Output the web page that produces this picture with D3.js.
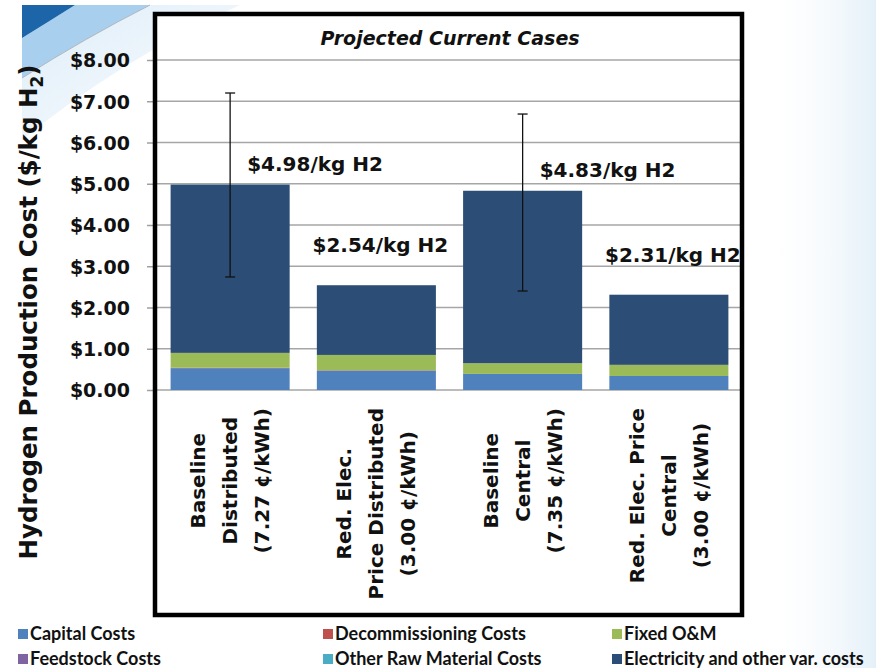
<!DOCTYPE html>
<html>
<head>
<meta charset="utf-8">
<script src="https://cdn.jsdelivr.net/npm/d3@7"></script>
<style>
  body { margin: 0; background: #fff; }
  svg { display: block; }
</style>
</head>
<body>
<svg width="876" height="668"></svg>
<script>
// chart values
const cases = [
  ["Baseline", "Distributed", "(7.27 \u00a2/kWh)"],
  ["Red. Elec.", "Price Distributed", "(3.00 \u00a2/kWh)"],
  ["Baseline", "Central", "(7.35 \u00a2/kWh)"],
  ["Red. Elec. Price", "Central", "(3.00 \u00a2/kWh)"]
];
const seriesNames = ["Capital Costs", "Decommissioning Costs", "Fixed O&M",
  "Feedstock Costs", "Other Raw Material Costs", "Electricity and other var. costs"];
const capital = [0.53, 0.47, 0.39, 0.34];
const decommissioning = [0.01, 0.01, 0.00, 0.00];
const fixedOM = [0.36, 0.37, 0.26, 0.27];
const feedstock = [0, 0, 0, 0];
const otherRaw = [0, 0, 0, 0];
const electricity = [4.08, 1.69, 4.18, 1.70];
const totals = [4.98, 2.54, 4.83, 2.31];
const errLow = [2.74, null, 2.40, null];
const errHigh = [7.20, null, 6.69, null];
const yTicks = [0, 1, 2, 3, 4, 5, 6, 7, 8];

const colors = ["#4f81bd", "#c0504d", "#9bbb59", "#8064a2", "#4bacc6", "#2c4d75"];

const svg = d3.select("svg");

// slide template decoration top-left
const defs = svg.append("defs");
const g1 = defs.append("linearGradient").attr("id", "pale").attr("x1", 0).attr("y1", 0).attr("x2", 1).attr("y2", 1);
g1.append("stop").attr("offset", 0).attr("stop-color", "#dcecf8");
g1.append("stop").attr("offset", 1).attr("stop-color", "#ffffff");
svg.append("path").attr("d", "M22,5 L240,5 Q120,60 22,140 Z").attr("fill", "url(#pale)");
svg.append("path").attr("d", "M75,5 L150,5 Q85,38 22,78 L22,38 Q48,22 75,5 Z").attr("fill", "#a8cfee");
svg.append("path").attr("d", "M22,5 L75,5 Q48,22 22,38 Z").attr("fill", "#1b65a8");
svg.append("path").attr("d", "M150,5 Q85,38 22,78").attr("fill", "none").attr("stroke", "#b0b8c0").attr("stroke-width", 1);

// faint blue wash at the right edge of the slide
const g2 = defs.append("linearGradient").attr("id", "wash").attr("x1", 0).attr("x2", 1);
g2.append("stop").attr("offset", 0).attr("stop-color", "#ffffff").attr("stop-opacity", 0);
g2.append("stop").attr("offset", 1).attr("stop-color", "#e4f0f8");
svg.append("rect").attr("x", 760).attr("y", 0).attr("width", 116).attr("height", 668).attr("fill", "url(#wash)");

const plotLeft = 157, plotRight = 742;
const y = d3.scaleLinear().domain([0, 8]).range([390, 60]);
const x = d3.scaleBand().domain(d3.range(cases.length)).range([plotLeft, plotRight])
  .paddingInner(0.186).paddingOuter(0.093);

// chart box
svg.append("rect").attr("x", 155).attr("y", 14).attr("width", 587).attr("height", 601)
  .attr("fill", "#fff");

// gridlines + ticks
const yAxis = svg.append("g").attr("transform", `translate(${plotLeft - 2},0)`)
  .call(d3.axisLeft(y).tickValues(yTicks).tickSize(8).tickFormat(d => "$" + d3.format(".2f")(d)));
yAxis.select(".domain").remove();
yAxis.selectAll(".tick line").attr("stroke", "#a0a0a0").attr("stroke-width", 1.5);
yAxis.selectAll(".tick text").attr("x", -25).attr("dy", "0.36em")
  .attr("font-family", "DejaVu Sans").attr("font-weight", "bold").attr("font-size", 19).attr("fill", "#111");

svg.append("g").selectAll("line").data(yTicks).join("line")
  .attr("x1", plotLeft).attr("x2", plotRight)
  .attr("y1", d => y(d)).attr("y2", d => y(d))
  .attr("stroke", "#a6a6a6").attr("stroke-width", 1.5);

// stacked bars
const rows = cases.map((c, i) => {
  const o = { i };
  [capital, decommissioning, fixedOM, feedstock, otherRaw, electricity]
    .forEach((arr, k) => o[seriesNames[k]] = arr[i]);
  return o;
});
const stacked = d3.stack().keys(seriesNames)(rows);

svg.append("g").selectAll("g").data(stacked).join("g")
  .attr("fill", (d, k) => colors[k])
  .selectAll("rect").data(d => d).join("rect")
  .attr("x", d => x(d.data.i))
  .attr("width", x.bandwidth())
  .attr("y", d => y(d[1]))
  .attr("height", d => Math.max(0, y(d[0]) - y(d[1])));

// error bars
const errs = cases.map((c, i) => ({ i, lo: errLow[i], hi: errHigh[i] })).filter(d => d.lo != null);
const eg = svg.append("g").attr("stroke", "#111").attr("stroke-width", 1.3);
errs.forEach(d => {
  const cx = x(d.i) + x.bandwidth() / 2;
  eg.append("line").attr("x1", cx).attr("x2", cx).attr("y1", y(d.hi)).attr("y2", y(d.lo));
  eg.append("line").attr("x1", cx - 5).attr("x2", cx + 5).attr("y1", y(d.hi)).attr("y2", y(d.hi));
  eg.append("line").attr("x1", cx - 5).attr("x2", cx + 5).attr("y1", y(d.lo)).attr("y2", y(d.lo));
});

// total labels
svg.append("g").selectAll("text").data(totals).join("text")
  .attr("x", (d, i) => x(i) + x.bandwidth() / 2 + (errLow[i] != null ? 17 : 4))
  .attr("y", (d, i) => y(d) - (errLow[i] != null ? 14 : 33))
  .attr("text-anchor", (d, i) => errLow[i] != null ? "start" : "middle")
  .attr("font-family", "DejaVu Sans").attr("font-weight", "bold").attr("font-size", 20).attr("fill", "#111")
  .text(d => "$" + d.toFixed(2) + "/kg H2");

// category labels, rotated, block top aligned
const lineGap = 32, labelTop = 408;
cases.forEach((lines, i) => {
  const cx = x(i) + x.bandwidth() / 2;
  const g = svg.append("g");
  const ts = lines.map((t, j) => g.append("text")
    .attr("text-anchor", "middle")
    .attr("font-family", "DejaVu Sans").attr("font-weight", "bold").attr("font-size", 20)
    .attr("fill", "#111").text(t));
  const maxLen = d3.max(ts, t => t.node().getComputedTextLength());
  const cy = labelTop + maxLen / 2;
  ts.forEach((t, j) => {
    const lx = cx + (j - (lines.length - 1) / 2) * lineGap + 7;
    t.attr("transform", `translate(${lx},${cy}) rotate(-90)`);
  });
});

// box border on top
svg.append("rect").attr("x", 155).attr("y", 14).attr("width", 587).attr("height", 601)
  .attr("fill", "none").attr("stroke", "#000").attr("stroke-width", 4.5);

// title
svg.append("text").attr("x", 450).attr("y", 45).attr("text-anchor", "middle")
  .attr("font-family", "DejaVu Sans").attr("font-weight", "bold").attr("font-style", "italic")
  .attr("font-size", 19).attr("fill", "#111").text("Projected Current Cases");

// y axis title
const yt = svg.append("text").attr("transform", "translate(37,312) rotate(-90)")
  .attr("text-anchor", "middle")
  .attr("font-family", "DejaVu Sans").attr("font-weight", "bold").attr("font-size", 24.5).attr("fill", "#111");
yt.append("tspan").text("Hydrogen Production Cost ($/kg H");
yt.append("tspan").attr("font-size", 17).attr("dy", 6).text("2");
yt.append("tspan").attr("dy", -6).text(")");

// legend
const legCols = [18, 323, 612], legRows = [634, 659];
const leg = svg.append("g").selectAll("g").data(seriesNames).join("g")
  .attr("transform", (d, k) => `translate(${legCols[k % 3]},${legRows[Math.floor(k / 3)]})`);
leg.append("rect").attr("x", 0).attr("y", -5).attr("width", 10).attr("height", 10)
  .attr("fill", (d, k) => colors[k]);
leg.append("text").attr("x", 12).attr("dy", "0.35em")
  .attr("font-family", "Lato").attr("font-weight", "bold").attr("font-size", 18).attr("fill", "#111")
  .text(d => d);
</script>
</body>
</html>
